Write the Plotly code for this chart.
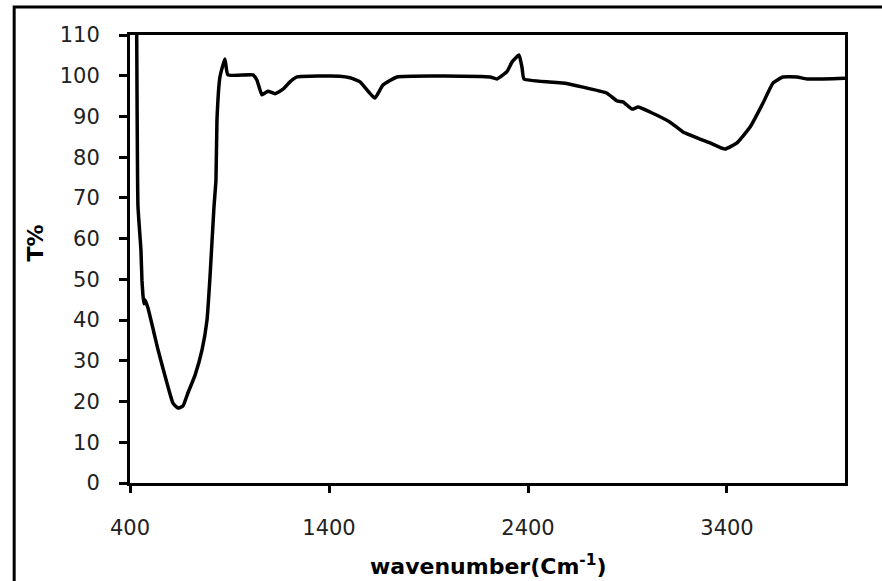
import plotly.graph_objects as go

# FTIR transmission spectrum: wavenumber (cm^-1) vs transmittance (%)
wavenumber = [
    432, 436, 440, 455, 460, 465, 470, 475, 490,
    541, 591, 616, 641, 666, 691, 727, 762, 787, 802, 822, 832, 837, 852,
    877, 892, 1018, 1038, 1063, 1093, 1129, 1169, 1204, 1239, 1455,
    1506, 1556, 1600, 1631, 1671, 1742, 2209, 2244, 2294, 2320, 2355,
    2370, 2380, 2576, 2676, 2797, 2847, 2877, 2923, 2953, 3013, 3114,
    3179, 3315, 3390, 3450, 3516, 3581, 3631, 3681, 3752, 3802, 3993,
]
transmittance = [
    125, 90, 68, 57.2, 49.8, 46.2, 44.0, 45.0, 43.0,
    32.7, 23.6, 19.6, 18.4, 18.9, 22.1, 26.5, 32.7, 40.0, 50.6, 67.8, 74.4, 89.1, 99.7,
    104.1, 100.2, 100.2, 98.9, 95.3, 96.2, 95.6, 96.7, 98.5, 99.7, 99.9,
    99.5, 98.5, 96.0, 94.5, 97.7, 99.7, 99.7, 99.2, 101.0, 103.4, 105.1,
    102.0, 99.2, 98.2, 97.2, 95.7, 93.8, 93.6, 91.8, 92.3, 91.1, 88.6,
    86.2, 83.5, 82.0, 83.5, 87.4, 93.3, 98.2, 99.7, 99.7, 99.2, 99.4,
]

x_ticks = [400, 1400, 2400, 3400]
y_ticks = list(range(0, 111, 10))

fig = go.Figure(
    go.Scatter(
        x=wavenumber,
        y=transmittance,
        mode="lines",
        line=dict(color="black", width=3.5, shape="spline", smoothing=0.4),
        showlegend=False,
    )
)

tick_font = dict(family="DejaVu Sans", size=21, color="#222222")

fig.update_layout(
    width=882,
    height=581,
    margin=dict(l=130, r=37, t=35, b=98),
    paper_bgcolor="white",
    plot_bgcolor="white",
    xaxis=dict(
        range=[400, 3993],
        tickvals=x_ticks,
        ticktext=[str(v) for v in x_ticks],
        ticks="outside",
        ticklen=7,
        tickwidth=3,
        tickcolor="black",
        showline=True,
        linecolor="black",
        linewidth=3,
        mirror=True,
        showgrid=False,
        zeroline=False,
        tickfont=tick_font,
        ticklabelstandoff=17,
    ),
    yaxis=dict(
        range=[0, 110],
        tickvals=y_ticks,
        ticks="outside",
        ticklen=8,
        tickwidth=3,
        tickcolor="black",
        showline=True,
        linecolor="black",
        linewidth=3,
        mirror=True,
        showgrid=False,
        zeroline=False,
        tickfont=tick_font,
        ticklabelstandoff=15,
    ),
    annotations=[
        dict(
            text="<b>wavenumber(Cm<sup>-1</sup>)</b>",
            xref="paper", yref="paper",
            x=0.502, y=-0.183,
            xanchor="center", yanchor="middle",
            showarrow=False,
            font=dict(family="DejaVu Sans", size=22, color="black"),
        ),
        dict(
            text="<b>T%</b>",
            xref="paper", yref="paper",
            x=-0.132, y=0.536,
            xanchor="center", yanchor="middle",
            textangle=-90,
            showarrow=False,
            font=dict(family="DejaVu Sans", size=22, color="black"),
        ),
    ],
    shapes=[
        # outer frame around the whole chart
        dict(
            type="rect", xref="paper", yref="paper",
            x0=-0.162, x1=1.07, y0=-0.3, y1=1.0625,
            line=dict(color="black", width=3),
            fillcolor="rgba(0,0,0,0)",
            layer="above",
        ),
    ],
)

fig.write_html("out.html")
